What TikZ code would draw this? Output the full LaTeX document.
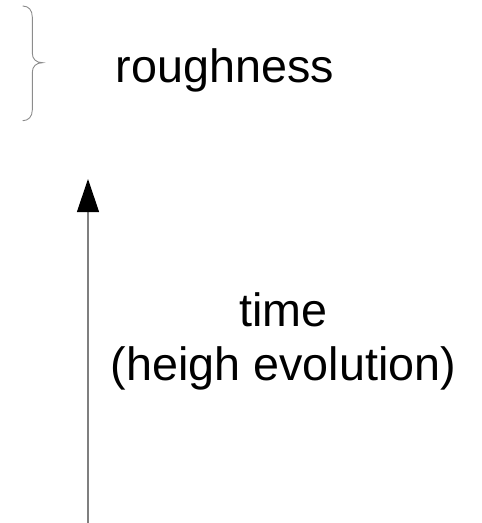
\documentclass[tikz,border=0pt]{standalone}
\usepackage{fontspec}
\setmainfont{Liberation Sans}
\usetikzlibrary{arrows.meta}
\definecolor{linegray}{HTML}{7F7F7F}
\definecolor{bracegray}{HTML}{8C8C8C}
\tikzset{
  label text/.style={inner sep=0pt, font=\fontsize{46.7}{53.5}\selectfont, text=black},
  axis line/.style={draw=linegray, line width=1.2pt,
    -{Triangle[length=33pt,width=22pt,color=black]}},
  brace line/.style={draw=bracegray, line width=0.9pt}
}
\begin{document}
\begin{tikzpicture}[x=1pt,y=-1pt]
  \useasboundingbox (0,0) rectangle (482,523);

  % curly brace next to the label
  \draw[brace line] (22.7,6) .. controls (28.5,6) and (32.3,10) .. (32.3,17)
    -- (32.3,53) .. controls (32.3,59) and (36,62.7) .. (42.7,62.7)
    .. controls (36,62.7) and (32.3,66.5) .. (32.3,72.5)
    -- (32.3,110) .. controls (32.3,116.5) and (28.5,120.7) .. (22.7,120.7);
  \node[label text, anchor=base] (rough) at (225,82) {roughness};

  % time axis
  \coordinate (tbot) at (88,523);
  \coordinate (ttop) at (88,179);
  \draw[axis line] (tbot) -- (ttop);

  % the base anchor of a multi-line node sits on its last line
  \node[label text, anchor=base, align=center] (time) at (283.5,380)
    {time\\(heigh evolution)};
\end{tikzpicture}
\end{document}
